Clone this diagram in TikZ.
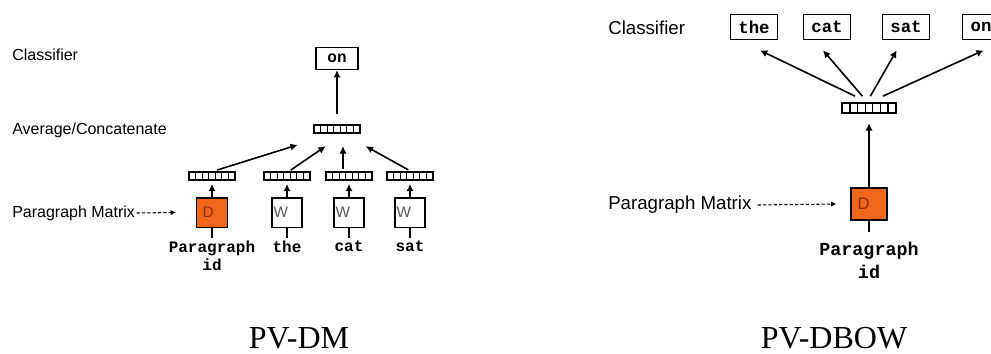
\documentclass[tikz,border=0pt]{standalone}
\usepackage{fontspec}
\setmainfont{Liberation Serif}
\newfontfamily\labelfont{Liberation Sans}
\newfontfamily\wordfont{Liberation Mono}
\usetikzlibrary{arrows.meta,positioning,calc}
\definecolor{docorange}{HTML}{F0661A}
\definecolor{docbrown}{HTML}{8A2C14}
\definecolor{lettergray}{HTML}{5A5A5A}
\tikzset{
  rowlabel/.style={anchor=west,inner sep=0pt,font=\labelfont\fontsize{12}{14}\selectfont},
  bigrowlabel/.style={rowlabel,font=\labelfont\fontsize{14}{16}\selectfont},
  word/.style={inner sep=0pt,align=center,font=\wordfont\bfseries\fontsize{12}{13.5}\selectfont},
  bigword/.style={word,font=\wordfont\bfseries\fontsize{13.8}{17}\selectfont},
  outbox/.style={draw=black,line width=1pt,inner sep=0pt,minimum width=31.5pt,minimum height=16.5pt,font=\wordfont\bfseries\fontsize{12}{13}\selectfont},
  bigoutbox/.style={outbox,inner xsep=6pt,minimum width=0pt,minimum height=19pt,font=\wordfont\bfseries\fontsize{13}{14}\selectfont},
  wordvec/.style={draw=black,line width=1.3pt,inner sep=0pt,minimum width=34pt,minimum height=6.5pt,
    path picture={\foreach \k in {1,...,6}
      \draw[line width=1pt] ($(path picture bounding box.south west)!\k/7!(path picture bounding box.south east)$)
        -- ($(path picture bounding box.north west)!\k/7!(path picture bounding box.north east)$);}},
  bigwordvec/.style={wordvec,minimum width=40pt,minimum height=7.5pt},
  wbox/.style={draw=black,line width=1pt,fill=white,minimum width=22.5pt,minimum height=22pt,inner xsep=1pt,inner ysep=0pt,
    text width=20pt,align=left,text=lettergray,font=\labelfont\fontsize{11.5}{12}\selectfont},
  dbox/.style={wbox,fill=docorange,inner xsep=4.5pt,text width=14pt,text=docbrown},
  bigdbox/.style={dbox,minimum width=27pt,minimum height=24pt,inner xsep=5pt,text width=17pt,font=\labelfont\fontsize{12.5}{13}\selectfont},
  flow/.style={-{Latex[length=5.5pt,width=5.5pt]},line width=1.2pt},
  stub/.style={line width=1.2pt},
  pointer/.style={-{Latex[length=4pt,width=4pt]},line width=.8pt,dash pattern=on 2.5pt off 1.5pt},
  caption/.style={anchor=base,inner sep=0pt,font=\fontsize{24}{26}\selectfont},
}

\begin{document}
\begin{tikzpicture}[x=0.75pt,y=-0.75pt]
  \useasboundingbox (0,0) rectangle (991,353);

  % PV-DM
  \node[rowlabel] (clsl) at (12,55) {Classifier};
  \node[rowlabel] (avgtxt) at (12,130) {Average/Concatenate};
  \node[rowlabel] (pml) at (12,213) {Paragraph Matrix};
  \node[outbox] (onl) at (337,58.5) {on};
  \node[wordvec] (avgl) at (337,129) {};
  \node[wordvec] (vl1) at (212,176) {};
  \node[wordvec] (vl2) at (287,176) {};
  \node[wordvec] (vl3) at (349,176) {};
  \node[wordvec] (vl4) at (410,176) {};
  \node[dbox] (dl) at (212,212.5) {D};
  \node[wbox] (wl2) at (287,212.5) {W};
  \node[wbox] (wl3) at (349,212.5) {W};
  \node[wbox] (wl4) at (410,212.5) {W};
  \node[word,below=9.5pt of dl] (pidl) {Paragraph\\id};
  \node[word,below=9.5pt of wl2] (thel) {the};
  \node[word,below=9.5pt of wl3] (catl) {cat};
  \node[word,below=9.5pt of wl4] (satl) {sat};
  \draw[flow,shorten <=7pt] (avgl.north) -- (onl.south);
  \foreach \b/\v in {dl/vl1,wl2/vl2,wl3/vl3,wl4/vl4}
    \draw[flow,shorten >=2pt] (\b.north) -- (\v.south);
  \foreach \b/\w in {dl/pidl,wl2/thel,wl3/catl,wl4/satl}
    \draw[stub,shorten >=2pt] (\b.south) -- (\w.north);
  \draw[flow,shorten <=2pt] ([xshift=2pt]vl1.north) -- ([xshift=-29.5pt,yshift=-8pt]avgl.south);
  \draw[flow,shorten <=1pt] ([xshift=2pt]vl2.north) -- ([xshift=-8.5pt,yshift=-9pt]avgl.south);
  \draw[flow,shorten <=1.5pt] ([xshift=-4.5pt]vl3.north) -- ([xshift=4.5pt,yshift=-9pt]avgl.south);
  \draw[flow,shorten <=1.5pt] (vl4.north) -- ([xshift=21.5pt,yshift=-9pt]avgl.south);
  \draw[pointer] ([xshift=1pt]pml.east) -- ([xshift=-15pt]dl.west);

  % PV-DBOW
  \node[bigrowlabel] (clsr) at (608,28) {Classifier};
  \node[bigrowlabel] (pmr) at (608,205) {Paragraph Matrix};
  \node[bigoutbox] (ther) at (754,27) {the};
  \node[bigoutbox] (catr) at (827,27) {cat};
  \node[bigoutbox] (satr) at (906,27) {sat};
  \node[bigoutbox] (onr) at (981,27) {on};
  \node[bigwordvec] (vr) at (869,108) {};
  \node[bigdbox] (dr) at (869,204) {D};
  \node[bigword,below=16pt of dr] (pidr) {Paragraph\\id};
  \draw[flow,shorten >=7pt] (dr.north) -- (vr.south);
  \draw[stub,shorten >=7.5pt] (dr.south) -- (pidr.north);
  \draw[flow] ([xshift=-10.5pt,yshift=4.5pt]vr.north) -- ([xshift=4.5pt,yshift=-7.5pt]ther.south);
  \draw[flow] ([xshift=-5pt,yshift=4.5pt]vr.north) -- ([xshift=-3pt,yshift=-7.5pt]catr.south);
  \draw[flow] ([xshift=1pt,yshift=4.5pt]vr.north) -- ([xshift=-7pt,yshift=-7.5pt]satr.south);
  \draw[flow] ([xshift=10.5pt,yshift=4.5pt]vr.north) -- ([xshift=2pt,yshift=-7.5pt]onr.south);
  \draw[pointer] ([xshift=4.5pt]pmr.east) -- ([xshift=-10.5pt]dr.west);

  % captions
  \node[caption] (capdm) at (299,348) {PV-DM};
  \node[caption] (capdbow) at (834,348) {PV-DBOW};
\end{tikzpicture}
\end{document}
